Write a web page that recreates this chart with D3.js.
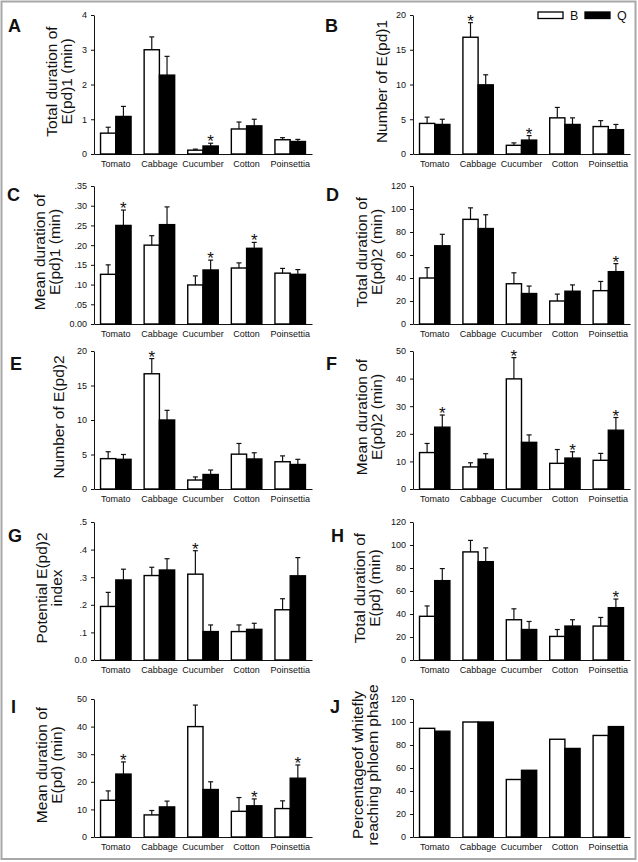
<!DOCTYPE html>
<html>
<head>
<meta charset="utf-8">
<script src="https://cdn.jsdelivr.net/npm/d3@7"></script>
<style>
  body { margin: 0; background: #fff; }
  text { font-family: "Liberation Sans", Arial, sans-serif; fill: #111; }
</style>
</head>
<body>
<div id="graph"></div>
<script>
// Categories and series
const categories = ["Tomato", "Cabbage", "Cucumber", "Cotton", "Poinsettia"];
const seriesNames = ["B", "Q"];
const panelLetters = ["A", "B", "C", "D", "E", "F", "G", "H", "I", "J"];

const yTitles = [
  ["Total duration of", "E(pd)1 (min)"],
  ["Number of E(pd)1"],
  ["Mean duration of", "E(pd)1 (min)"],
  ["Total duration of", "E(pd)2 (min)"],
  ["Number of E(pd)2"],
  ["Mean duration of", "E(pd)2 (min)"],
  ["Potential E(pd)2", "index"],
  ["Total duration of", "E(pd) (min)"],
  ["Mean duration of", "E(pd) (min)"],
  ["Percentageof whitefly", "reaching phloem phase"]
];

// y axis extents and tick steps
const yMax = [4, 20, 0.35, 120, 20, 50, 0.5, 120, 50, 120];
const yStep = [1, 5, 0.05, 20, 5, 10, 0.1, 20, 10, 20];
const tickDecimals = [0, 0, 2, 0, 0, 0, 1, 0, 0, 0];

// means (B = white, Q = black) and standard errors per panel
const meanB = [
  [0.60, 3.00, 0.11, 0.72, 0.41],
  [4.4, 16.8, 1.25, 5.2, 3.95],
  [0.126, 0.200, 0.099, 0.142, 0.129],
  [40, 91, 35, 20, 29],
  [4.4, 16.7, 1.3, 5.05, 3.95],
  [13.2, 8.0, 39.9, 9.3, 10.4],
  [0.194, 0.306, 0.311, 0.103, 0.182],
  [38, 94, 35, 20.5, 29.5],
  [13.3, 8.0, 40.0, 9.3, 10.3],
  [94.5, 100, 50, 85, 88.3]
];
const seB = [
  [0.17, 0.37, 0.03, 0.20, 0.06],
  [0.9, 2.1, 0.35, 1.5, 0.85],
  [0.024, 0.024, 0.023, 0.013, 0.012],
  [9, 10, 9.5, 6, 8],
  [1.0, 2.2, 0.45, 1.55, 0.85],
  [3.3, 1.5, 7.7, 5.0, 2.5],
  [0.051, 0.030, 0.085, 0.024, 0.040],
  [9, 10, 9.5, 6, 7.5],
  [3.4, 1.6, 7.8, 5.0, 2.8],
  null
];
const meanQ = [
  [1.08, 2.27, 0.23, 0.81, 0.36],
  [4.25, 9.95, 2.0, 4.25, 3.5],
  [0.250, 0.252, 0.137, 0.192, 0.126],
  [68, 83, 26.5, 28.5, 45.5],
  [4.3, 10.0, 2.1, 4.35, 3.55],
  [22.4, 10.8, 16.9, 11.2, 21.3],
  [0.290, 0.326, 0.103, 0.111, 0.305],
  [69, 85.5, 26.5, 29.5, 45.5],
  [22.8, 10.9, 17.2, 11.3, 21.3],
  [92, 100, 58, 77, 96]
];
const seQ = [
  [0.29, 0.54, 0.08, 0.19, 0.06],
  [0.75, 1.45, 0.65, 0.95, 0.75],
  [0.039, 0.045, 0.025, 0.015, 0.012],
  [10, 12, 6.5, 5.5, 7],
  [0.7, 1.4, 0.65, 0.9, 0.75],
  [4.4, 2.0, 2.7, 2.3, 4.6],
  [0.039, 0.041, 0.024, 0.022, 0.066],
  [10.5, 12, 7, 5.5, 7.5],
  [4.4, 2.1, 2.8, 2.5, 4.8],
  null
];
// significance marks (*)
const sigB = [
  [0, 0, 0, 0, 0], [0, 1, 0, 0, 0], [0, 0, 0, 0, 0], [0, 0, 0, 0, 0], [0, 1, 0, 0, 0],
  [0, 0, 1, 0, 0], [0, 0, 1, 0, 0], [0, 0, 0, 0, 0], [0, 0, 0, 0, 0], [0, 0, 0, 0, 0]
];
const sigQ = [
  [0, 0, 1, 0, 0], [0, 0, 1, 0, 0], [1, 0, 1, 1, 0], [0, 0, 0, 0, 1], [0, 0, 0, 0, 0],
  [1, 0, 0, 1, 1], [0, 0, 0, 0, 0], [0, 0, 0, 0, 1], [1, 0, 0, 1, 1], [0, 0, 0, 0, 0]
];

// layout of the panels (pixels)
const colX = [[94, 312], [413, 630]];
const rowY = [[15, 154], [186, 324], [351, 489], [522, 660], [699, 837]];
const titleX = [59, 381, 47, 369, 58, 369, 49, 367, 49, 365];
const letterPos = [[8, 32], [325, 32], [7, 201], [326, 201], [10, 370], [326, 370], [8, 542], [331, 542], [11, 713], [330, 713]];

const svg = d3.select("#graph")
  .append("svg")
  .attr("width", 638)
  .attr("height", 862);

// outer frame
svg.append("rect")
  .attr("x", 1.5).attr("y", 1.5)
  .attr("width", 634).attr("height", 857.5)
  .attr("fill", "none")
  .attr("stroke", "#a8a8a8")
  .attr("stroke-width", 2);

panelLetters.forEach((letter, p) => {
  const col = p % 2, row = Math.floor(p / 2);
  const [x0, x1] = colX[col];
  const [yTop, yBot] = rowY[row];
  const g = svg.append("g");

  const x = d3.scaleBand().domain(categories).range([x0, x1]).padding(0);
  const y = d3.scaleLinear().domain([0, yMax[p]]).range([yBot, yTop]);
  const barW = x.step() * 0.35;

  const ticks = d3.range(0, yMax[p] + yStep[p] / 2, yStep[p]);
  const dec = tickDecimals[p];
  const fmt = d => {
    if (dec === 0) return d3.format("d")(d);
    const s = d3.format("." + dec + "f")(d);
    return d === 0 ? s : s.replace(/^0/, "");
  };

  // y axis
  g.append("g")
    .attr("transform", `translate(${x0},0)`)
    .call(d3.axisLeft(y).tickValues(ticks).tickFormat(fmt).tickSize(3).tickPadding(4).tickSizeOuter(0))
    .call(a => a.select(".domain").attr("stroke", "#111"))
    .call(a => a.selectAll(".tick line").attr("stroke", "#111"))
    .selectAll("text")
    .style("font-size", "9px")
    .style("font-family", "'Liberation Sans', Arial, sans-serif")
    .attr("fill", "#111");

  // x axis
  g.append("g")
    .attr("transform", `translate(0,${yBot})`)
    .call(d3.axisBottom(x).tickSize(0).tickPadding(7).tickSizeOuter(0))
    .call(a => a.select(".domain").attr("stroke", "#111"))
    .selectAll("text")
    .style("font-size", "9px")
    .style("font-family", "'Liberation Sans', Arial, sans-serif")
    .attr("fill", "#111");

  const series = [
    { name: "B", mean: meanB[p], se: seB[p], sig: sigB[p], fill: "#fff", off: -1 },
    { name: "Q", mean: meanQ[p], se: seQ[p], sig: sigQ[p], fill: "#000", off: 0 }
  ];

  series.forEach(s => {
    const rows = categories.map((c, i) => ({
      c, v: s.mean[i], e: s.se ? s.se[i] : null, sig: s.sig[i]
    }));
    const cx = d => x(d.c) + x.bandwidth() / 2 + (s.off + 0.5) * barW;

    // error bars (upper only), drawn behind the bar
    if (s.se) {
      g.selectAll(null).data(rows).join("line")
        .attr("x1", cx).attr("x2", cx)
        .attr("y1", d => y(d.v)).attr("y2", d => y(d.v + d.e))
        .attr("stroke", "#111").attr("stroke-width", 1.2);
      g.selectAll(null).data(rows).join("line")
        .attr("x1", d => cx(d) - 2.5).attr("x2", d => cx(d) + 2.5)
        .attr("y1", d => y(d.v + d.e)).attr("y2", d => y(d.v + d.e))
        .attr("stroke", "#111").attr("stroke-width", 1.2);
    }

    g.selectAll(null).data(rows).join("rect")
      .attr("x", d => x(d.c) + x.bandwidth() / 2 + s.off * barW)
      .attr("y", d => y(d.v))
      .attr("width", barW)
      .attr("height", d => yBot - y(d.v))
      .attr("fill", s.fill)
      .attr("stroke", "#000")
      .attr("stroke-width", 1.4);

    g.selectAll(null).data(rows.filter(d => d.sig)).join("text")
      .attr("x", cx)
      .attr("y", d => y(d.v + (d.e || 0)) + 4)
      .attr("text-anchor", "middle")
      .style("font-size", "17px")
      .text("*");
  });

  // y title
  const lines = yTitles[p];
  const cy = (yTop + yBot) / 2 - 3;
  lines.forEach((t, k) => {
    const lx = titleX[p] + (k - (lines.length - 1) / 2) * 15;
    g.append("text")
      .attr("transform", `translate(${lx},${cy}) rotate(-90)`)
      .attr("text-anchor", "middle")
      .attr("dy", "0.36em")
      .style("font-size", "15.5px")
      .text(t);
  });

  // panel letter
  g.append("text")
    .attr("x", letterPos[p][0])
    .attr("y", letterPos[p][1])
    .style("font-size", "18px")
    .style("font-weight", "bold")
    .text(letter);
});

// legend (in panel B)
const legend = svg.append("g").attr("transform", "translate(538,12)");
seriesNames.forEach((n, i) => {
  legend.append("rect")
    .attr("x", i * 47).attr("y", 0)
    .attr("width", 25).attr("height", 6.5)
    .attr("fill", i === 0 ? "#fff" : "#000")
    .attr("stroke", "#000").attr("stroke-width", 1.3);
  legend.append("text")
    .attr("x", i * 47 + 32).attr("y", 7.5)
    .style("font-size", "12.5px")
    .text(n);
});
</script>
</body>
</html>
